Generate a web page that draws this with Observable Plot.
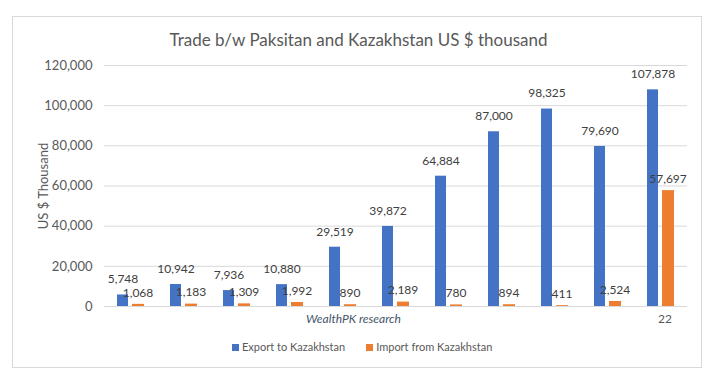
<!DOCTYPE html>
<html>
<head>
<meta charset="utf-8">
<script src="https://cdn.jsdelivr.net/npm/d3@7"></script>
<script src="https://cdn.jsdelivr.net/npm/@observablehq/plot@0.6"></script>
<style>
  html, body { margin: 0; padding: 0; background: #fff; }
  #wrap { position: relative; width: 726px; height: 375px; font-family: Lato, "Open Sans", sans-serif; overflow: hidden; }
  #border { position: absolute; left: 12px; top: 16px; width: 690px; height: 352px; border: 1px solid #d9d9d9; box-sizing: border-box; }
  #title { position: absolute; left: 0; width: 717px; top: 29px; text-align: center; font-size: 17px; color: #595959; }
  #ytitle { position: absolute; left: 43px; top: 186px; transform: translate(-50%, -50%) rotate(-90deg); font-size: 13px; color: #595959; white-space: nowrap; }
  #source { position: absolute; left: 306px; top: 311px; font-size: 12px; font-style: italic; color: #44546a; }
  #legend { position: absolute; left: 232px; top: 340px; font-size: 11px; color: #595959; display: flex; gap: 21px; }
  #legend span.sw { display: inline-block; width: 7px; height: 7px; margin-right: 3px; }
  #chart { position: absolute; left: 0; top: 0; }
</style>
</head>
<body>
<div id="wrap">
  <div id="border"></div>
  <div id="chart"></div>
  <div id="title">Trade b/w Paksitan and Kazakhstan US $ thousand</div>
  <div id="ytitle">US $ Thousand</div>
  <div id="source">WealthPK research</div>
  <div id="legend"></div>
</div>
<script>
const categories = ["2012", "2013", "2014", "2015", "2016", "2017", "2018", "2019", "2020", "2021", "2022"];
const lastLabel = "22";
const seriesNames = ["Export to Kazakhstan", "Import from Kazakhstan"];
const exportsKZ = [5748, 10942, 7936, 10880, 29519, 39872, 64884, 87000, 98325, 79690, 107878];
const importsKZ = [1068, 1183, 1309, 1992, 890, 2189, 780, 894, 411, 2524, 57697];
const yTicks = [0, 20000, 40000, 60000, 80000, 100000, 120000];
const colors = ["#4472c4", "#ed7d31"];

const exp = categories.map((c, i) => ({cat: c, value: exportsKZ[i]}));
const imp = categories.map((c, i) => ({cat: c, value: importsKZ[i]}));
const fmt = d3.format(",");

const plot = Plot.plot({
  width: 726,
  height: 375,
  marginTop: 65,
  marginBottom: 69,
  marginLeft: 104,
  marginRight: 39,
  style: {fontFamily: "Lato, 'Open Sans', sans-serif", fontSize: "12px", background: "transparent"},
  x: {domain: categories, padding: 0, label: null},
  y: {domain: [0, 120000], label: null},
  marks: [
    Plot.gridY(yTicks, {stroke: "#d9d9d9", strokeOpacity: 1}),
    Plot.axisY(yTicks, {tickSize: 0, tickPadding: 12, tickFormat: fmt, fill: "#595959", fontSize: 13, label: null}),
    Plot.axisX({tickSize: 0, tickPadding: 8, tickFormat: (d) => d === categories[categories.length - 1] ? lastLabel : "", fill: "#595959", fontSize: 12, label: null, dx: 4}),
    Plot.barY(exp, {x: "cat", y: "value", fill: colors[0], insetLeft: 13, insetRight: 29}),
    Plot.barY(imp, {x: "cat", y: "value", fill: colors[1], insetLeft: 28, insetRight: 13}),
    Plot.text(exp, {x: "cat", y: "value", text: (d) => fmt(d.value), dx: -8, dy: -15.5, fill: "#404040", fontSize: 12}),
    Plot.text(imp, {x: "cat", y: "value", text: (d) => fmt(d.value), dx: 7, dy: -11.5, fill: "#404040", fontSize: 12})
  ]
});
document.getElementById("chart").appendChild(plot);

const legend = document.getElementById("legend");
seriesNames.forEach((n, i) => {
  const item = document.createElement("div");
  item.innerHTML = `<span class="sw" style="background:${colors[i]}"></span>${n}`;
  legend.appendChild(item);
});
</script>
</body>
</html>
